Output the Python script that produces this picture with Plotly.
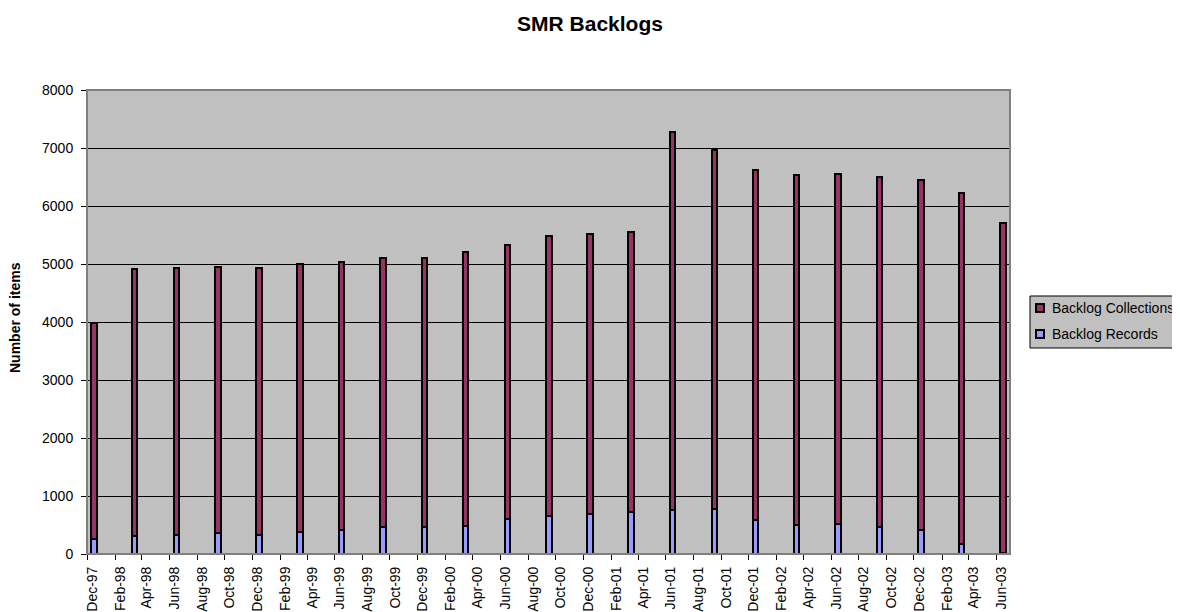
import plotly.graph_objects as go

dates = ["1997-12-16", "1998-03-16", "1998-06-16", "1998-09-16", "1998-12-16",
         "1999-03-16", "1999-06-16", "1999-09-16", "1999-12-16",
         "2000-03-16", "2000-06-16", "2000-09-16", "2000-12-16",
         "2001-03-16", "2001-06-16", "2001-09-16", "2001-12-16",
         "2002-03-16", "2002-06-16", "2002-09-16", "2002-12-16",
         "2003-03-16", "2003-06-16"]
totals = [3985, 4909, 4925, 4943, 4934, 5005, 5040, 5110, 5110, 5200, 5333, 5483, 5517,
          5545, 7272, 6965, 6613, 6543, 6560, 6497, 6445, 6225, 5711]
records = [265, 316, 333, 356, 333, 379, 420, 466, 466, 477, 609, 650, 695,
           718, 753, 770, 592, 506, 523, 460, 414, 178, 12]
collections = [t - r for t, r in zip(totals, records)]
series_names = ["Backlog Records", "Backlog Collections"]
series_colors = ["#9999FF", "#993366"]

BAR_W = 12 * 86400000
FONT = "Liberation Sans, Arial, sans-serif"
W, H = 1172, 604  # page body has an 8px margin
PL, PR, PT, PB = 87, 1010, 90, 554  # plot area in page pixels


def px(X):
    return (X - PL) / (PR - PL)


def py(Y):
    return (PB - Y) / (PB - PT)


fig = go.Figure()
for name, vals, col in zip(series_names, [records, collections], series_colors):
    fig.add_trace(go.Bar(x=dates, y=vals, name=name, width=BAR_W, showlegend=False,
                         marker=dict(color=col, line=dict(color="black", width=2))))

shapes = [dict(type="rect", xref="paper", yref="paper", x0=0, x1=1, y0=0, y1=1,
               line=dict(color="#808080", width=2), layer="above"),
          # legend box
          dict(type="rect", xref="paper", yref="paper", x0=px(1030), x1=px(1190),
               y0=py(348), y1=py(296), fillcolor="#C0C0C0",
               line=dict(color="black", width=1))]
annotations = [dict(text="<b>Number of items</b>", xref="paper", yref="paper",
                    x=px(15), y=py(318), xanchor="center", yanchor="middle",
                    textangle=-90, showarrow=False,
                    font=dict(family=FONT, size=14, color="black"))]
# legend entries: collections on top, records below
for i, (name, col) in enumerate(zip(series_names[::-1], series_colors[::-1])):
    yc = 308 + 26 * i
    shapes.append(dict(type="rect", xref="paper", yref="paper",
                       x0=px(1036), x1=px(1044), y0=py(yc + 4), y1=py(yc - 4),
                       fillcolor=col, line=dict(color="black", width=2)))
    annotations.append(dict(text=name, xref="paper", yref="paper", x=px(1050), y=py(yc),
                            xanchor="left", yanchor="middle", showarrow=False,
                            font=dict(family=FONT, size=14, color="black")))

fig.update_layout(
    barmode="stack",
    width=W, height=H,
    margin=dict(l=PL - 8, r=W - (PR - 8), t=PT - 8, b=H - (PB - 8), autoexpand=False),
    paper_bgcolor="white",
    plot_bgcolor="#C0C0C0",
    showlegend=False,
    font=dict(family=FONT, size=14, color="black"),
    title=dict(text="<b>SMR Backlogs</b>", x=582 / W, xref="container", xanchor="center",
               y=1 - 16 / H, yref="container", yanchor="middle",
               font=dict(family=FONT, size=21, color="black")),
    xaxis=dict(type="date", range=["1997-12-01", "2003-07-01"],
               tick0="1997-12-01", dtick="M2", tickformat="%b-%y",
               tickangle=-90, ticks="outside", ticklen=5, tickcolor="black",
               showline=True, linecolor="black", linewidth=1,
               showgrid=False, zeroline=False, ticklabelshift=5, ticklabelstandoff=1,
               tickfont=dict(family=FONT, size=14, color="black")),
    yaxis=dict(range=[0, 8000], dtick=1000, ticks="outside", ticklen=5, tickcolor="black",
               showline=False, showgrid=True, gridcolor="black", gridwidth=1,
               zeroline=False, ticklabelstandoff=5,
               tickfont=dict(family=FONT, size=14, color="black")),
    shapes=shapes,
    annotations=annotations,
)

fig.write_html("out.html")
